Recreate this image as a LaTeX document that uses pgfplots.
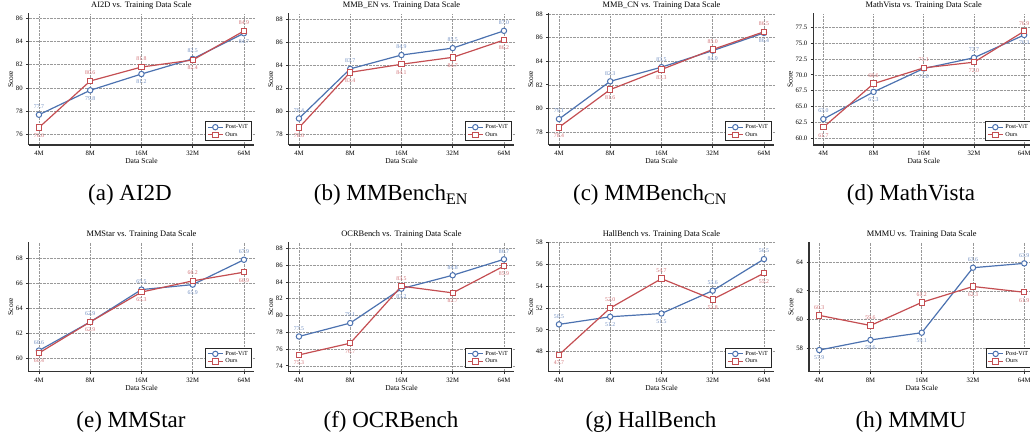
\documentclass[border=0pt]{standalone}
\usepackage{pgfplots}
\usepackage{pgfplotstable}
\pgfplotsset{compat=1.18}
\usepackage{fontspec}
\setmainfont{Liberation Serif}
\definecolor{postc}{HTML}{4C72B0}
\definecolor{oursc}{HTML}{C44E52}

% columns: x, Post-ViT, label shift, Ours, label shift
\pgfplotstableread{
x p pd o od
0 77.7 8 76.6 -8
1 79.8 -8 80.6 8
2 81.2 -8 81.8 8
3 82.5 8 82.4 -8
4 84.7 -8 84.9 8
}\tA
\pgfplotstableread{
x p pd o od
0 79.4 8 78.6 -8
1 83.7 8 83.4 -8
2 84.9 8 84.1 -8
3 85.5 8 84.7 -8
4 87.0 8 86.2 -8
}\tB
\pgfplotstableread{
x p pd o od
0 79.1 8 78.4 -8
1 82.3 8 81.6 -8
2 83.5 8 83.3 -8
3 84.9 -8 85.0 8
4 86.4 -8 86.5 8
}\tC
\pgfplotstableread{
x p pd o od
0 63.0 8 61.7 -8
1 67.3 -8 68.6 8
2 71.0 -8 71.1 8
3 72.7 8 72.0 -8
4 76.3 -8 76.9 8
}\tD
\pgfplotstableread{
x p pd o od
0 60.6 8 60.4 -8
1 62.9 8 62.9 -8
2 65.5 8 65.3 -8
3 65.9 -8 66.2 8
4 67.9 8 66.9 -8
}\tE
\pgfplotstableread{
x p pd o od
0 77.5 8 75.3 -8
1 79.1 8 76.7 -8
2 83.2 -8 83.5 8
3 84.8 8 82.7 -8
4 86.7 8 85.9 -8
}\tF
\pgfplotstableread{
x p pd o od
0 50.5 8 47.7 -8
1 51.2 -8 52.0 8
2 51.5 -8 54.7 8
3 53.6 8 52.8 -8
4 56.5 8 55.2 -8
}\tG
\pgfplotstableread{
x p pd o od
0 57.9 -8 60.3 8
1 58.6 -8 59.6 8
2 59.1 -8 61.2 8
3 63.6 8 62.3 -8
4 63.9 8 61.9 -8
}\tH

\pgfplotsset{
  panel/.style={
    scale only axis, width=225.5pt, height=131.5pt,
    xmin=-0.2, xmax=4.2, xtick={0,1,2,3,4}, xticklabels={4M,8M,16M,32M,64M},
    axis x line*=bottom, axis y line*=left,
    axis line style={-, line width=1.3pt, draw=black!80},
    tick align=outside, major tick length=2.5pt,
    tick style={line width=0.8pt, black!80},
    grid=major, major grid style={densely dotted, line width=0.6pt, black!40},
    ticklabel style={font=\fontsize{6.7}{8}\selectfont},
    /pgf/number format/assume math mode=true,
    xlabel={Data Scale}, ylabel={Score},
    label style={font=\fontsize{7.5}{9}\selectfont},
    xlabel style={at={(0.5,0)}, anchor=base, yshift=-18.5pt},
    ylabel shift=-4pt,
    title style={font=\fontsize{8.4}{10}\selectfont, at={(0.5,1)}, anchor=base, yshift=-0.5pt},
    legend style={at={(1,0)}, anchor=south east, xshift=-2.5pt, yshift=4pt,
      font=\fontsize{6.2}{7}\selectfont, draw=black!85, line width=0.8pt,
      inner xsep=1.5pt, inner ysep=1pt, row sep=-2pt, cells={anchor=west}},
    legend image code/.code={\draw[mark repeat=2,mark phase=2] plot coordinates {(0pt,0pt) (7.5pt,0pt) (15pt,0pt)};},
    clip=false,
  },
  postline/.style={color=postc, line width=1.2pt, mark=*, mark size=2.7pt,
    mark options={fill=white, line width=1pt, solid},
    nodes near coords={\pgfmathprintnumber[fixed,fixed zerofill,precision=1]{\pgfplotspointmeta}},
    point meta=y,
    visualization depends on={\thisrow{pd}\as\dy},
    every node near coord/.append style={anchor=center, yshift=\dy pt, font=\fontsize{5.8}{6.5}\selectfont, text=postc!80!white}},
  oursline/.style={color=oursc, line width=1.2pt, mark=square*, mark size=2.7pt,
    mark options={fill=white, line width=1pt, solid},
    nodes near coords={\pgfmathprintnumber[fixed,fixed zerofill,precision=1]{\pgfplotspointmeta}},
    point meta=y,
    visualization depends on={\thisrow{od}\as\dy},
    every node near coord/.append style={anchor=center, yshift=\dy pt, font=\fontsize{5.8}{6.5}\selectfont, text=oursc!80!white}},
}

\begin{document}
\begin{tikzpicture}
\useasboundingbox (0,0) rectangle (1030pt,437pt);
\clip (0,0) rectangle (1030pt,437pt);

% (a)
\begin{axis}[panel, at={(28.7pt,292pt)}, anchor=south west,
  title={AI2D vs. Training Data Scale}, ymin=75.1, ymax=86.4, ytick={76,78,...,86}]
\addplot[postline] table[x=x,y=p]{\tA}; \addlegendentry{Post-ViT}
\addplot[oursline] table[x=x,y=o]{\tA}; \addlegendentry{Ours}
\end{axis}
% (b)
\begin{axis}[panel, at={(288.7pt,292pt)}, anchor=south west,
  title={MMB\_EN vs. Training Data Scale}, ymin=77.1, ymax=88.5, ytick={78,80,...,88}]
\addplot[postline] table[x=x,y=p]{\tB}; \addlegendentry{Post-ViT}
\addplot[oursline] table[x=x,y=o]{\tB}; \addlegendentry{Ours}
\end{axis}
% (c)
\begin{axis}[panel, at={(548.7pt,292pt)}, anchor=south west,
  title={MMB\_CN vs. Training Data Scale}, ymin=76.9, ymax=88.05, ytick={78,80,...,88}]
\addplot[postline] table[x=x,y=p]{\tC}; \addlegendentry{Post-ViT}
\addplot[oursline] table[x=x,y=o]{\tC}; \addlegendentry{Ours}
\end{axis}
% (d)
\begin{axis}[panel, width=220.9pt, at={(813.3pt,292pt)}, anchor=south west,
  title={MathVista vs. Training Data Scale}, ymin=58.9, ymax=79.7,
  ytick={60,62.5,...,77.5}, yticklabel style={/pgf/number format/.cd, fixed, fixed zerofill, precision=1}]
\addplot[postline] table[x=x,y=p]{\tD}; \addlegendentry{Post-ViT}
\addplot[oursline] table[x=x,y=o]{\tD}; \addlegendentry{Ours}
\end{axis}
% (e)
\begin{axis}[panel, height=130pt, at={(28.7pt,65.3pt)}, anchor=south west,
  title={MMStar vs. Training Data Scale}, ymin=58.9, ymax=69.35, ytick={60,62,...,68}]
\addplot[postline] table[x=x,y=p]{\tE}; \addlegendentry{Post-ViT}
\addplot[oursline] table[x=x,y=o]{\tE}; \addlegendentry{Ours}
\end{axis}
% (f)
\begin{axis}[panel, height=130pt, at={(288.7pt,65.3pt)}, anchor=south west,
  title={OCRBench vs. Training Data Scale}, ymin=73.3, ymax=88.8, ytick={74,76,...,88}]
\addplot[postline] table[x=x,y=p]{\tF}; \addlegendentry{Post-ViT}
\addplot[oursline] table[x=x,y=o]{\tF}; \addlegendentry{Ours}
\end{axis}
% (g)
\begin{axis}[panel, height=130pt, at={(548.7pt,65.3pt)}, anchor=south west,
  title={HallBench vs. Training Data Scale}, ymin=46.15, ymax=58.1, ytick={48,50,...,58}]
\addplot[postline] table[x=x,y=p]{\tG}; \addlegendentry{Post-ViT}
\addplot[oursline] table[x=x,y=o]{\tG}; \addlegendentry{Ours}
\end{axis}
% (h)
\begin{axis}[panel, height=130pt, at={(809pt,65.3pt)}, anchor=south west,
  title={MMMU vs. Training Data Scale}, ymin=56.4, ymax=65.4, ytick={58,60,...,64}]
\addplot[postline] table[x=x,y=p]{\tH}; \addlegendentry{Post-ViT}
\addplot[oursline] table[x=x,y=o]{\tH}; \addlegendentry{Ours}
\end{axis}

% sub-captions
\begin{scope}[every node/.style={font=\fontsize{23}{27}\selectfont}]
\node at (130pt,242pt) {(a) AI2D};
\node at (391pt,242pt) {(b) MMBench\textsubscript{EN}};
\node at (650pt,242pt) {(c) MMBench\textsubscript{CN}};
\node at (911pt,242pt) {(d) MathVista};
\node at (131pt,15pt) {(e) MMStar};
\node at (391pt,15pt) {(f) OCRBench};
\node at (651pt,15pt) {(g) HallBench};
\node at (911pt,15pt) {(h) MMMU};
\end{scope}
\end{tikzpicture}
\end{document}
